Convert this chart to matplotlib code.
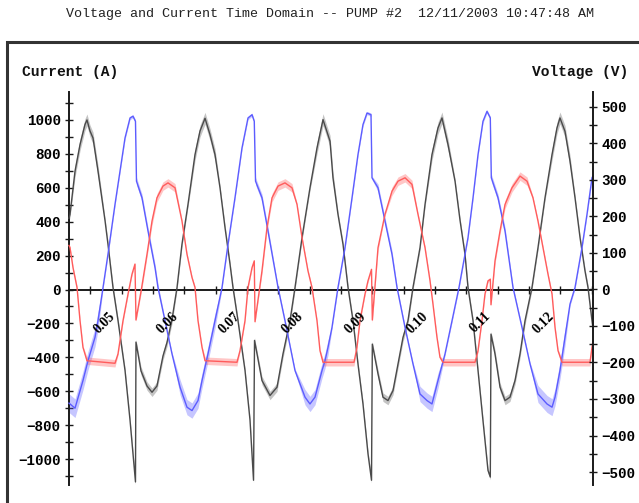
import matplotlib
matplotlib.use("Agg")
import matplotlib.pyplot as plt
import numpy as np
from matplotlib.patches import Rectangle
import matplotlib.ticker as mticker

# ---------------- data ----------------
title = "Voltage and Current Time Domain -- PUMP #2  12/11/2003 10:47:48 AM"
left_label = "Current (A)"
right_label = "Voltage (V)"
time_labels = ["0.05", "0.06", "0.07", "0.08", "0.09", "0.10", "0.11", "0.12"]
time_label_values = [0.05, 0.06, 0.07, 0.08, 0.09, 0.10, 0.11, 0.12]

# black trace (time in ms, value in current units A)
black_ms = [41.60, 41.76, 42.56, 43.36, 44.15, 44.47, 44.95, 45.43, 46.23, 47.35, 47.82, 48.62,
            49.42, 50.54, 51.34, 52.21, 52.29, 53.09, 54.05, 54.85, 55.64, 56.60, 57.24, 58.04,
            58.84, 59.63, 60.59, 61.71, 62.51, 63.31, 64.10, 64.90, 65.70, 66.50, 67.30, 67.77,
            68.57, 69.69, 70.49, 71.05, 71.21, 72.40, 73.68, 74.80, 75.75, 76.87, 77.67, 78.79,
            80.06, 81.18, 82.14, 83.26, 83.73, 84.53, 85.33, 86.13, 86.93, 87.72, 88.52, 89.32,
            89.88, 90.01, 90.92, 91.71, 92.51, 93.31, 94.11, 94.91, 95.70, 96.50, 97.62, 98.42,
            99.53, 100.49, 101.13, 102.09, 103.21, 104.00, 104.80, 105.28, 106.08, 106.88, 107.67,
            108.47, 108.84, 108.95, 109.59, 110.39, 111.19, 111.98, 112.78, 113.58, 114.38,
            115.49, 116.45, 117.57, 118.69, 119.48, 119.96, 120.76, 121.56, 122.36, 123.16,
            123.95, 124.43, 125.07, 125.23]
black_val = [420, 443, 698, 855, 973, 1000, 935, 894, 698, 406, 267, 12,
             -183, -477, -771, -1135, -310, -480, -569, -606, -569, -392, -312, -176,
             12, 267, 502, 796, 935, 1010, 914, 796, 600, 365, 149, 12,
             -184, -477, -771, -1125, -300, -537, -625, -576, -380, -184, 12, 306,
             600, 835, 1002, 875, 659, 443, 267, 12, -184, -439, -675, -969,
             -1125, -322, -498, -635, -655, -596, -439, -282, -184, 12, 247, 502,
             796, 953, 1012, 855, 639, 410, 208, 12, -184, -478, -773,
             -1067, -1106, -263, -380, -576, -655, -635, -537, -380, -184,
             12, 247, 541, 796, 953, 1012, 933, 757, 541, 306,
             110, 12, -184, -230]

# blue trace
blue_ms = [41.60, 41.76, 42.56, 43.83, 44.63, 45.75, 46.23, 47.03, 47.82, 48.94, 49.74, 50.54,
           51.34, 51.81, 52.21, 52.37, 53.25, 54.21, 55.33, 55.80, 56.92, 58.04, 59.32, 60.43,
           61.23, 62.19, 62.83, 63.78, 64.90, 66.02, 66.98, 68.09, 69.21, 70.17, 70.81, 71.17,
           71.37, 72.40, 73.36, 74.96, 76.07, 77.67, 79.27, 80.06, 80.86, 81.98, 82.46, 82.94,
           83.57, 84.53, 85.65, 86.77, 87.72, 88.52, 89.16, 89.80, 89.96, 90.92, 92.03, 93.15,
           93.95, 95.23, 96.50, 97.62, 98.74, 99.53, 100.49, 101.61, 102.73, 103.84, 105.28,
           106.08, 106.88, 107.67, 108.31, 108.84, 109.00, 110.07, 111.19, 112.46, 113.90,
           115.18, 116.45, 117.89, 118.69, 119.17, 119.96, 120.76, 121.56, 122.36, 123.47,
           124.27, 125.07, 125.23]
blue_val = [-670, -675, -700, -537, -420, -282, -184, 12, 208, 502, 698, 894,
            1012, 1022, 992, 639, 541, 345, 129, 12, -184, -380, -576, -694,
            -714, -655, -537, -380, -184, 12, 267, 541, 835, 1012, 1031, 992,
            639, 541, 345, 12, -184, -478, -635, -675, -635, -478, -420, -341,
            -224, 12, 247, 541, 796, 973, 1041, 1031, 659, 600, 404, 208,
            12, -224, -439, -616, -655, -675, -537, -380, -184, 12, 306,
            541, 796, 992, 1051, 1012, 659, 541, 345, 12, -224,
            -439, -616, -675, -694, -635, -478, -282, -86, 12, 247,
            443, 659, 670]

# red trace
red_ms = [41.60, 41.76, 42.24, 42.88, 43.36, 43.83, 44.47, 48.94, 49.42, 50.22, 51.02, 51.65,
          52.13, 52.29, 53.20, 54.05, 54.85, 55.64, 56.60, 57.40, 58.52, 59.63, 60.43, 61.23,
          61.71, 62.19, 62.83, 63.31, 68.41, 68.89, 69.69, 70.17, 70.81, 71.17, 71.29, 72.40,
          73.20, 74.00, 74.96, 76.07, 77.19, 77.99, 78.79, 79.74, 80.38, 81.18, 81.66, 82.14,
          87.09, 87.56, 88.04, 88.84, 89.32, 89.88, 90.01, 90.92, 92.03, 93.15, 94.11, 95.23,
          96.34, 97.30, 98.42, 99.22, 99.69, 100.33, 100.81, 101.29, 106.40, 106.88, 107.51,
          107.99, 108.47, 108.84, 108.95, 109.59, 110.39, 111.19, 112.30, 113.58, 114.70,
          115.65, 116.45, 117.25, 118.05, 118.69, 119.17, 119.65, 120.28, 124.75, 125.07, 125.23]
red_val = [260, 247, 129, 12, -184, -341, -420, -435, -380, -184, -27, 90,
           150, -180, 12, 208, 404, 541, 610, 629, 600, 404, 208, 71,
           12, -184, -341, -420, -429, -361, -184, 12, 129, 169, -190, 110,
           365, 541, 610, 629, 600, 502, 306, 110, 12, -184, -361, -429,
           -429, -341, -184, -27, 51, 119, -180, 247, 443, 580, 639, 659,
           620, 443, 247, 51, -86, -282, -400, -429, -429, -361, -184,
           -27, 51, 61, -90, 169, 345, 502, 600, 669, 639,
           541, 404, 247, 90, -27, -224, -361, -429, -429, -341, -300]

# ripple (fuzz) half-height: (start ms, end ms, amplitude A)
black_base_ripple = 16
black_ripple = [(42.3, 46.6, 35), (61.7, 64.9, 35), (80.9, 84.0, 35), (99.5, 102.4, 35),
                (118.4, 121.6, 35), (53.0, 58.5, 25), (72.0, 77.0, 25), (90.5, 96.0, 25),
                (109.3, 114.5, 25)]
blue_base_ripple = 10
blue_ripple = [(41.6, 46.6, 55), (59.3, 64.9, 45), (77.7, 83.3, 45), (97.0, 101.6, 45),
               (116.0, 120.8, 50), (52.3, 56.1, 22), (71.3, 74.5, 22), (90.0, 93.5, 22),
               (109.0, 112.0, 22)]
red_base_ripple = 8
red_ripple = [(44.3, 49.0, 22), (63.0, 68.5, 22), (81.9, 87.2, 22), (101.0, 106.5, 22),
              (120.0, 124.9, 22), (54.8, 58.8, 25), (73.5, 77.5, 25), (92.5, 96.6, 25),
              (110.8, 115.5, 25), (52.3, 54.5, 18), (71.3, 73.2, 18), (90.0, 92.0, 18),
              (109.0, 110.8, 18)]

# ---------------- figure ----------------
W, H = 639, 503
fig = plt.figure(figsize=(W / 100, H / 100), dpi=100)
fig.patch.set_facecolor("white")


def fx(px):
    return px / W


def fy(py):
    return 1 - py / H


PT = 0.72  # points per pixel at 100 dpi

AX_L, AX_R, AX_T, AX_B = 69, 593, 92, 485
ax = fig.add_axes([fx(AX_L), fy(AX_B), fx(AX_R) - fx(AX_L), fy(AX_T) - fy(AX_B)])
ax.set_facecolor("none")
ax.set_xlim(41.6 / 1000, 125.23 / 1000)
ax.set_ylim(-1153, 1165)
ax2 = ax.twinx()
ax2.set_ylim(-535.6, 541)

axis_color = "#1a1a1a"
for s in ["top", "right"]:
    ax.spines[s].set_visible(False)
ax.spines["left"].set_color(axis_color)
ax.spines["left"].set_linewidth(1.4)
ax.spines["bottom"].set_position(("data", 0))
ax.spines["bottom"].set_color(axis_color)
ax.spines["bottom"].set_linewidth(1.4)
for s in ["top", "left", "bottom"]:
    ax2.spines[s].set_visible(False)
ax2.spines["right"].set_color(axis_color)
ax2.spines["right"].set_linewidth(1.4)

tick_font = dict(family="Liberation Mono", weight="bold", size=10.3)

ax.yaxis.set_major_locator(mticker.MultipleLocator(200))
ax.yaxis.set_minor_locator(mticker.MultipleLocator(100))
ax.tick_params(axis="y", which="both", direction="inout", length=6, width=1.0,
               color=axis_color, pad=3.0)
ax2.yaxis.set_major_locator(mticker.MultipleLocator(100))
ax2.yaxis.set_minor_locator(mticker.MultipleLocator(50))
ax2.tick_params(axis="y", which="both", direction="inout", length=6, width=1.0,
                color=axis_color, pad=3.0)
for lab in ax.get_yticklabels() + ax2.get_yticklabels():
    lab.set_fontproperties(matplotlib.font_manager.FontProperties(**tick_font))

ax.xaxis.set_major_locator(mticker.FixedLocator(np.arange(0.045, 0.1251, 0.005)))
ax.tick_params(axis="x", which="both", direction="inout", length=6, width=1.0,
               color=axis_color, labelbottom=False)


def ripple_amp(ms, base, regions):
    amp = np.full(len(ms), float(base))
    ms = np.asarray(ms)
    for a, b, r in regions:
        sel = (ms >= a) & (ms <= b)
        amp[sel] = np.maximum(amp[sel], r)
    return amp


def draw_trace(ms, val, base, regions, color, band_alpha):
    t = np.asarray(ms) / 1000.0
    v = np.asarray(val, dtype=float)
    amp = ripple_amp(ms, base, regions)
    ax.fill_between(t, v - amp, v + amp, color=color, alpha=band_alpha, lw=0, zorder=2,
                    clip_on=False)
    ax.plot(t, v, color=color, lw=1.0, clip_on=False, zorder=3)


draw_trace(black_ms, black_val, black_base_ripple, black_ripple, "#4a4a4a", 0.32)
draw_trace(blue_ms, blue_val, blue_base_ripple, blue_ripple, "#5c5cff", 0.35)
draw_trace(red_ms, red_val, red_base_ripple, red_ripple, "#ff5c5c", 0.35)

# rotated time labels
for tv, tl in zip(time_label_values, time_labels):
    ax.annotate(tl, xy=(tv, 0), xytext=(-17 * PT, -33 * PT), textcoords="offset points",
                ha="center", va="center", rotation=45, family="Liberation Serif",
                weight="bold", size=10, zorder=5)

# texts
fig.text(fx(330), fy(14), title, ha="center", va="center", family="Liberation Mono", size=9.6,
         color="#222222")
fig.text(fx(22), fy(72), left_label, ha="left", va="center", family="Liberation Mono",
         weight="bold", size=10.5, color="#111111")
fig.text(fx(628), fy(72), right_label, ha="right", va="center", family="Liberation Mono",
         weight="bold", size=10.5, color="#111111")

# outer frame
fig.add_artist(Rectangle((fx(7), fy(560)), fx(700) - fx(7), fy(42) - fy(560),
                         transform=fig.transFigure, fill=False, lw=2.2, ec="#333333"))

fig.savefig("out.png", dpi=100)
